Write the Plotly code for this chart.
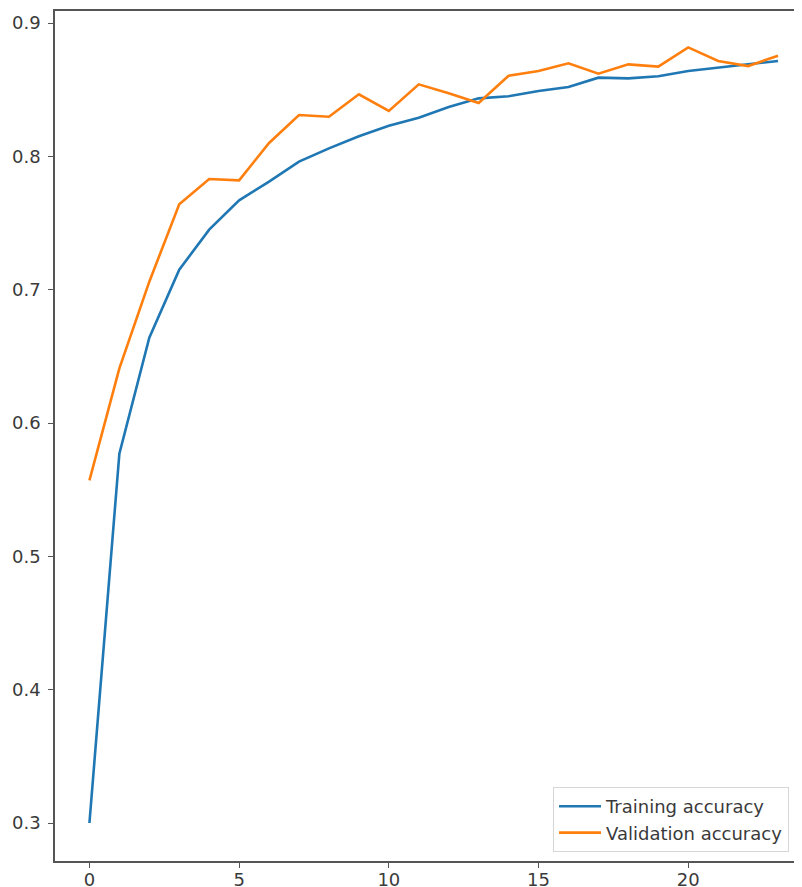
import plotly.graph_objects as go

epochs = list(range(24))
training_accuracy = [0.300, 0.577, 0.664, 0.715, 0.745, 0.767, 0.781, 0.796, 0.806, 0.815,
                     0.823, 0.829, 0.837, 0.8435, 0.845, 0.849, 0.852, 0.859, 0.8585, 0.860,
                     0.864, 0.8667, 0.869, 0.8715]
validation_accuracy = [0.557, 0.641, 0.706, 0.764, 0.783, 0.782, 0.810, 0.831, 0.8297, 0.8465,
                       0.834, 0.854, 0.8473, 0.840, 0.8605, 0.864, 0.8698, 0.862, 0.869, 0.8673,
                       0.8817, 0.8715, 0.8677, 0.8755]
x_ticks = [0, 5, 10, 15, 20]
y_ticks = [0.3, 0.4, 0.5, 0.6, 0.7, 0.8, 0.9]

fig = go.Figure()
fig.add_trace(go.Scatter(x=epochs, y=training_accuracy, mode="lines", name="Training accuracy",
                         line=dict(color="#1f77b4", width=2.6)))
fig.add_trace(go.Scatter(x=epochs, y=validation_accuracy, mode="lines", name="Validation accuracy",
                         line=dict(color="#ff7f0e", width=2.6)))

axis_font = dict(family="DejaVu Sans", size=18, color="#3a3a3a")
fig.update_layout(
    width=794, height=879,
    margin=dict(l=47, r=0, t=3, b=26, autoexpand=False),
    paper_bgcolor="white", plot_bgcolor="white",
    showlegend=True,
    legend=dict(x=0.6667, y=0.0106, xanchor="left", yanchor="bottom",
                bordercolor="#d6d6d6", borderwidth=1, bgcolor="rgba(255,255,255,0.9)",
                itemwidth=42,
                font=dict(family="DejaVu Sans", size=18, color="#3a3a3a")),
    xaxis=dict(range=[-1.15, 23.8], tickvals=x_ticks, showgrid=False, zeroline=False,
               automargin=False, ticklabelstandoff=-3,
               showline=True, linecolor="#555555", linewidth=1.5, mirror=True,
               ticks="outside", ticklen=5, tickcolor="#555555", tickfont=axis_font),
    yaxis=dict(range=[0.2715, 0.909], tickvals=y_ticks, tickformat=".1f", showgrid=False,
               automargin=False, ticklabelstandoff=4,
               zeroline=False, showline=True, linecolor="#555555", linewidth=1.5,
               ticks="outside", ticklen=5, tickcolor="#555555", tickfont=axis_font),
)

fig.write_html("out.html")
